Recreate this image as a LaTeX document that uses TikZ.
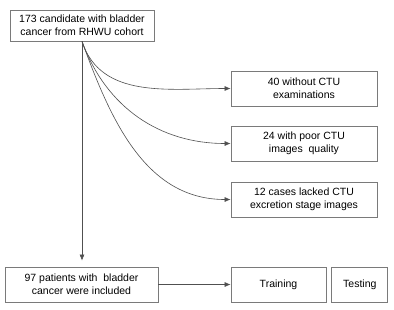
\documentclass[tikz,border=0pt]{standalone}
\usepackage{fontspec}
\setmainfont{Liberation Sans}
\usetikzlibrary{arrows.meta,positioning,calc}
\definecolor{boxgray}{HTML}{7A7A7A}
\definecolor{linegray}{HTML}{505050}
\tikzset{
  stage/.style  ={rectangle, draw=boxgray, thick, fill=white, align=center,
    inner sep=0pt, font=\fontsize{10.5}{13}\selectfont},
  stage_wide/.style ={stage, minimum width=146pt, minimum height=35pt},
  stage_top/.style ={stage, minimum width=144pt, minimum height=31pt}}

\begin{document}
\begin{tikzpicture}[x=1pt, y=-1pt]

\tikzset{
toarr/.style={-{Latex[length=6pt,width=5pt]}, draw=linegray, shorten <=+0pt, shorten >=+0pt, semithick}
}

\useasboundingbox[fill=white] (0,0) rectangle (394,309);

\node[stage_top](cohort) at (82,25.5){
    173 candidate with bladder\\cancer from RHWU cohort
};

%EXCLUSIONS
\node[stage_wide](excl1) at (304,88.5){
    40 without CTU\\examinations
};

\node[stage_wide](excl2) at (304,143.5){
    24 with poor CTU\\images\ \ quality
};

\node[stage_wide](excl3) at (304,199.5){
    12 cases lacked CTU\\excretion stage images
};

\draw[toarr] (cohort.south) to[out=-72, in=180] (excl1.west);
\draw[toarr] (cohort.south) to[out=-70, in=180] (excl2.west);
\draw[toarr] (cohort.south) to[out=-70, in=180] (excl3.west);

%INCLUDED
\node[stage, minimum width=153pt, minimum height=35pt](included) at (81.5,284.5){
    97 patients with\ \ bladder\\cancer were included
};

\draw[toarr, shorten >=+6pt] (cohort.south) -- (cohort.south |- included.north);

%SPLIT
\node[stage, minimum width=95pt, minimum height=35pt](training) at (278.5,284.5){Training};
\node[stage, minimum width=56pt, minimum height=35pt, right=5pt of training](testing){Testing};

\draw[toarr] (included) -- (training);
\end{tikzpicture}
\end{document}
